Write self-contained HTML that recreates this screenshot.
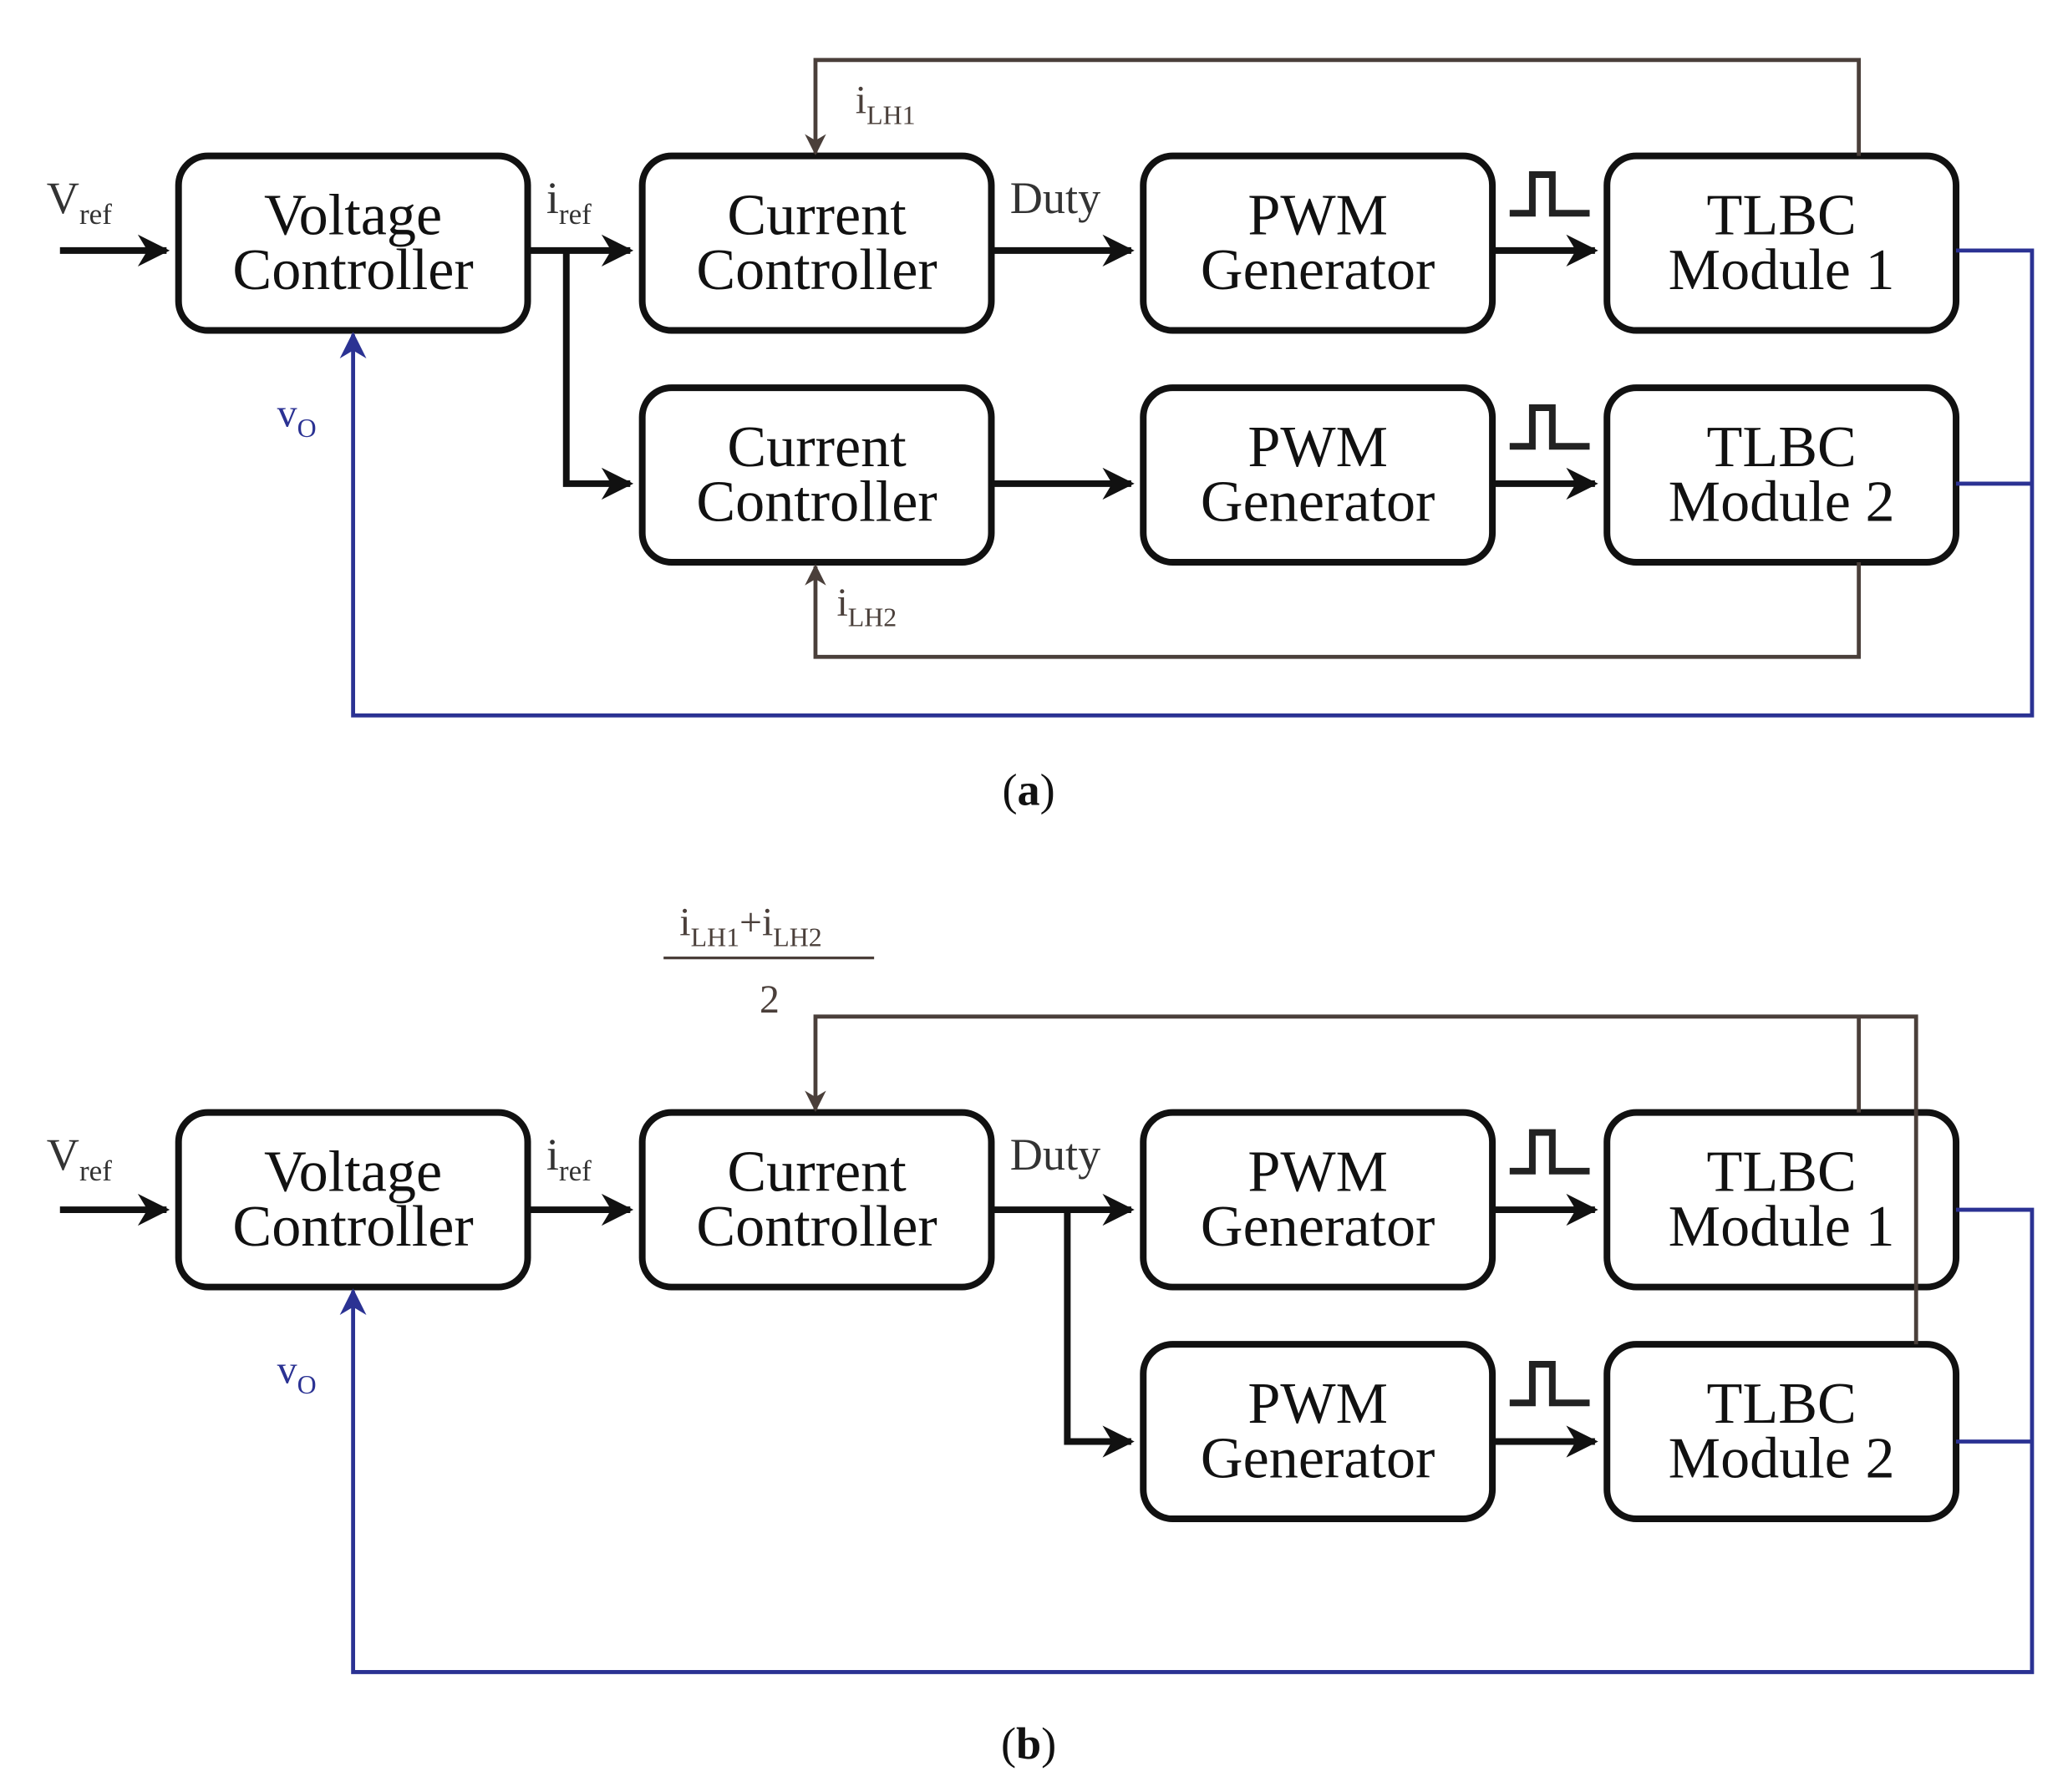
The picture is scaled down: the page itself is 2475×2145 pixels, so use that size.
<!DOCTYPE html>
<html><head><meta charset="utf-8"><style>
html,body{margin:0;padding:0;background:#fff}
svg{display:block}
text{font-family:"Liberation Serif",serif}
</style></head><body>
<svg width="2475" height="2145" viewBox="0 0 1552 1345" xmlns="http://www.w3.org/2000/svg">
<defs>
<marker id="ak" viewBox="0 0 10 10" refX="9" refY="5" markerWidth="26" markerHeight="24" markerUnits="userSpaceOnUse" orient="auto"><path d="M0,0 L10,5 L0,10 L3,5z" fill="#111"/></marker>
<marker id="ab" viewBox="0 0 10 10" refX="9" refY="5" markerWidth="18" markerHeight="16" markerUnits="userSpaceOnUse" orient="auto"><path d="M0,0 L10,5 L0,10 L3,5z" fill="#4a3f3a"/></marker>
<marker id="au" viewBox="0 0 10 10" refX="9" refY="5" markerWidth="22" markerHeight="20" markerUnits="userSpaceOnUse" orient="auto"><path d="M0,0 L10,5 L0,10 L3,5z" fill="#2b3293"/></marker>
</defs>
<rect width="1552" height="1345" fill="#fff"/>

<g fill="none" stroke="#111" stroke-width="5">
<rect x="134" y="117" width="262" height="131" rx="22"/>
<rect x="482" y="117" width="262" height="131" rx="22"/>
<rect x="858" y="117" width="262" height="131" rx="22"/>
<rect x="1206" y="117" width="262" height="131" rx="22"/>
<rect x="482" y="291" width="262" height="131" rx="22"/>
<rect x="858" y="291" width="262" height="131" rx="22"/>
<rect x="1206" y="291" width="262" height="131" rx="22"/>
<rect x="134" y="835" width="262" height="131" rx="22"/>
<rect x="482" y="835" width="262" height="131" rx="22"/>
<rect x="858" y="835" width="262" height="131" rx="22"/>
<rect x="1206" y="835" width="262" height="131" rx="22"/>
<rect x="858" y="1009" width="262" height="131" rx="22"/>
<rect x="1206" y="1009" width="262" height="131" rx="22"/>
</g>

<g fill="none" stroke="#111" stroke-width="5" marker-end="url(#ak)">
<path d="M45,188 H125"/>
<path d="M396,188 H473"/>
<path d="M425,188 V363 H473"/>
<path d="M744,188 H849"/>
<path d="M1120,188 H1197"/>
<path d="M744,363 H849"/>
<path d="M1120,363 H1197"/>
<path d="M45,908 H125"/>
<path d="M396,908 H473"/>
<path d="M744,908 H849"/>
<path d="M801,908 V1082 H849"/>
<path d="M1120,908 H1197"/>
<path d="M1120,1082 H1197"/>
</g>

<g fill="none" stroke="#222" stroke-width="5">
<path d="M1133,160 H1150 V131 H1165 V160 H1193"/>
<path d="M1133,335 H1150 V306 H1165 V335 H1193"/>
<path d="M1133,879 H1150 V850 H1165 V879 H1193"/>
<path d="M1133,1053 H1150 V1024 H1165 V1053 H1193"/>
</g>

<g fill="none" stroke="#4a3f3a" stroke-width="3" marker-end="url(#ab)">
<path d="M1395,117 V45 H612 V115"/>
<path d="M1395,422 V493 H612 V425"/>
<path d="M1438,1009 V763 H612 V833"/>
</g>
<path d="M1395,835 V763" stroke="#4a3f3a" stroke-width="3" fill="none"/>

<g fill="none" stroke="#2b3293" stroke-width="3">
<path d="M1468,188 H1525 V537 H265 V251" marker-end="url(#au)"/>
<path d="M1468,363 H1525"/>
<path d="M1468,908 H1525 V1255 H265 V969" marker-end="url(#au)"/>
<path d="M1468,1082 H1525"/>
</g>

<g font-size="44" text-anchor="middle" fill="#111">
<text x="265" y="176">Voltage</text><text x="265" y="217">Controller</text>
<text x="613" y="176">Current</text><text x="613" y="217">Controller</text>
<text x="989" y="176">PWM</text><text x="989" y="217">Generator</text>
<text x="1337" y="176">TLBC</text><text x="1337" y="217">Module 1</text>
<text x="613" y="350">Current</text><text x="613" y="391">Controller</text>
<text x="989" y="350">PWM</text><text x="989" y="391">Generator</text>
<text x="1337" y="350">TLBC</text><text x="1337" y="391">Module 2</text>
<text x="265" y="894">Voltage</text><text x="265" y="935">Controller</text>
<text x="613" y="894">Current</text><text x="613" y="935">Controller</text>
<text x="989" y="894">PWM</text><text x="989" y="935">Generator</text>
<text x="1337" y="894">TLBC</text><text x="1337" y="935">Module 1</text>
<text x="989" y="1068">PWM</text><text x="989" y="1109">Generator</text>
<text x="1337" y="1068">TLBC</text><text x="1337" y="1109">Module 2</text>
</g>

<g fill="#333" font-size="34">
<text x="35" y="160">V<tspan font-size="22" dy="8">ref</tspan></text>
<text x="410" y="160">i<tspan font-size="22" dy="8">ref</tspan></text>
<text x="758" y="160">Duty</text>
<text x="35" y="878">V<tspan font-size="22" dy="8">ref</tspan></text>
<text x="410" y="878">i<tspan font-size="22" dy="8">ref</tspan></text>
<text x="758" y="878">Duty</text>
</g>
<g fill="#4a3f3a" font-size="30">
<text x="642" y="85">i<tspan font-size="20" dy="8">LH1</tspan></text>
<text x="628" y="462">i<tspan font-size="20" dy="8">LH2</tspan></text>
<text x="510" y="702">i<tspan font-size="20" dy="8">LH1</tspan><tspan dy="-8">+i</tspan><tspan font-size="20" dy="8">LH2</tspan></text>
<text x="570" y="760">2</text>
</g>
<line x1="498" y1="719" x2="656" y2="719" stroke="#4a3f3a" stroke-width="2"/>
<g fill="#2b3293" font-size="30">
<text x="208" y="320">v<tspan font-size="20" dy="8">O</tspan></text>
<text x="208" y="1038">v<tspan font-size="20" dy="8">O</tspan></text>
</g>
<g font-size="34" fill="#111" text-anchor="middle">
<text x="772" y="604">(<tspan font-weight="bold">a</tspan>)</text>
<text x="772" y="1320">(<tspan font-weight="bold">b</tspan>)</text>
</g>
</svg>
</body></html>
